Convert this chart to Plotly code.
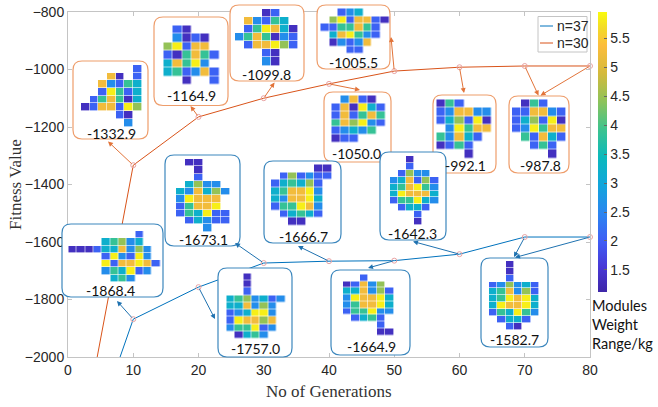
import plotly.graph_objects as go

# ---------------------------------------------------------------- data
generations = [0, 10, 20, 30, 40, 50, 60, 70, 80]
fitness_n37 = [-2520, -1868.4, -1757.0, -1673.1, -1666.7, -1664.9, -1642.3, -1582.7, -1582.7]
fitness_n30 = [-2540, -1332.9, -1164.9, -1099.8, -1050.0, -1005.5, -992.1, -987.8, -987.8]

x_ticks = [0, 10, 20, 30, 40, 50, 60, 70, 80]
y_ticks = [-2000, -1800, -1600, -1400, -1200, -1000, -800]
cbar_ticks = [1.5, 2, 2.5, 3, 3.5, 4, 4.5, 5, 5.5]
cbar_ticktext = ["1.5", "2", "2.5", "3", "3.5", "4", "4.5", "5", "5.5"]

# module weight (kg) of each colour class used in the layout grids
WEIGHT = {"D": 1.35, "B": 2.05, "L": 2.6, "C": 3.2, "G": 3.85, "K": 4.45, "O": 5.25, "Y": 5.85}

# best module layouts ('.' = empty slot), n = 30 modules
layout_n30_g10 = ["......B", "...OD.B", "..OLBGC", "..BYGBC", ".BGOGDC", "DBOOBYK", "....BD.", ".....L."]
layout_n30_g20 = [".BD...", ".LDBD.", "KYBOO.", "BDGOGB", "COGYL.", "CGBLOB", "..D..B"]
layout_n30_g30 = ["...DB..", ".OLBGC.", ".BGYOCD", "LGOGDLB", ".BOOYKB", "...BD..", "...LD.."]
layout_n30_g40 = [".LOBD.", "BODYCB", "BOBGOG", "GOKYLB", "BLCLG.", "DBB..."]
layout_n30_g50 = ["..BLC...", ".KYBOOBD", "BBGGOGB.", ".COYGLB.", ".DLBLO..", "...BB..."]
layout_n30_g60 = ["DGB...", "BLOOLL", "BCKBYD", ".LYGOO", "GLOCB.", "DBGB..", "...D.."]
layout_n30_g70 = [".DGB..", "BBOOLB", "BCKBYD", "BLYGOO", ".GBOCB", "..BGB.", "....D."]

# best module layouts, n = 37 modules
layout_n37_g10 = ["........B..", "....CGKLC..", "DDDBCCOLKL.", "....BYLBYL.",
                  "....YBOOYOB", "....LGCYBL.", ".....CGL..."]
layout_n37_g20 = ["..D....", "..D....", "..B....", "CGKLCBL", "CCOLKL.", "BLCYYL.",
                  "BYOOKO.", "LGGYBL.", ".DCGL.."]
layout_n37_g30 = [".DD...", "..D...", "..B...", ".CKLL.", "CLOCKL", "LYOOO.",
                  "BGOOY.", "BGCYBB", ".BCLBB", "...L.."]
layout_n37_g40 = [".....DD", ".BKBLBB", "BCGCKB.", "CGOOYL.", "CLOOYC.", "BGGYOL.",
                  ".BCGCB.", "..DD..."]
layout_n37_g50 = ["..B...", "DBOLK.", "CCOLKB", "LYOOYC", "LGOOYC", "BGGYLL",
                  ".BCGB.", "....B.", "....DD"]
layout_n37_g60 = ["..D...", "..B...", ".BKLL.", "LCOBKB", "CGOYGL", "CYOOOC",
                  "BGGYCL", ".BCCB.", "...B..", "...D.."]
layout_n37_g70 = ["..D...", "..D...", "..B...", "BLKLCB", "CGOLKB", "CGYOYC",
                  "CYOOYC", "BGCYGL", ".BCCB.", "..BD.."]

series = {
    "n37": dict(values=fitness_n37, name="n=37", color="#0072BD", box="#3C87BD", arrow="#1F72B0"),
    "n30": dict(values=fitness_n30, name="n=30", color="#D95319", box="#EE9D6B", arrow="#E2743A"),
}

layouts = {
    ("n30", 10): layout_n30_g10, ("n30", 20): layout_n30_g20, ("n30", 30): layout_n30_g30,
    ("n30", 40): layout_n30_g40, ("n30", 50): layout_n30_g50, ("n30", 60): layout_n30_g60,
    ("n30", 70): layout_n30_g70,
    ("n37", 10): layout_n37_g10, ("n37", 20): layout_n37_g20, ("n37", 30): layout_n37_g30,
    ("n37", 40): layout_n37_g40, ("n37", 50): layout_n37_g50, ("n37", 60): layout_n37_g60,
    ("n37", 70): layout_n37_g70,
}

# ---------------------------------------------------------------- geometry (pixels)
W, H = 658, 407
PLOT_L, PLOT_R, PLOT_T, PLOT_B = 68, 590, 12, 357
X_RANGE = [0, 80]
Y_RANGE = [-2000, -800]
PAD = 2
RADIUS = 9

# inset placement: rounded box, grid extent, label centre
inset_pos = {
    ("n30", 10): dict(box=(73, 61, 148, 139), grid=(81, 65, 141.5, 126.5), label=(111, 133)),
    ("n30", 20): dict(box=(154, 17, 228, 105.5), grid=(163.5, 25.5, 219, 84.5), label=(191, 96)),
    ("n30", 30): dict(box=(230, 5, 304, 81), grid=(235, 9, 298, 65.5), label=(266, 74)),
    ("n30", 40): dict(box=(324, 92, 391, 162), grid=(331.5, 95.5, 385.5, 142.5), label=(357, 153)),
    ("n30", 50): dict(box=(317, 5, 390, 69), grid=(320.5, 8.5, 389, 53.5), label=(353, 62)),
    ("n30", 60): dict(box=(433, 95, 496, 173), grid=(436.5, 99.5, 491.5, 158), label=(465, 166)),
    ("n30", 70): dict(box=(509, 96, 569, 173), grid=(512, 99.5, 565.5, 158), label=(540, 166)),
    ("n37", 10): dict(box=(62, 224, 163, 297), grid=(68.5, 231, 160, 282), label=(110, 290)),
    ("n37", 20): dict(box=(218, 268, 292, 357), grid=(226.5, 273.5, 285, 338.5), label=(255, 348)),
    ("n37", 30): dict(box=(165, 155, 240, 246), grid=(176, 159, 229.5, 231.5), label=(203, 239)),
    ("n37", 40): dict(box=(264, 161, 341, 243), grid=(271, 164.5, 331.5, 225.5), label=(303, 236)),
    ("n37", 50): dict(box=(331, 270, 410, 355), grid=(343, 274.5, 393.5, 335), label=(371, 346)),
    ("n37", 60): dict(box=(380, 152, 446, 240), grid=(390, 156, 438.5, 225), label=(412, 233)),
    ("n37", 70): dict(box=(481, 258, 548, 347), grid=(489, 261, 539, 329.5), label=(514, 339)),
}

# where each generation's arrow lands on its inset box
arrow_heads = {
    ("n30", 10): (108, 141.5), ("n30", 20): (190.5, 106), ("n30", 30): (274.5, 82.5),
    ("n30", 40): (360, 90), ("n30", 50): (391, 37), ("n30", 60): (464, 93),
    ("n30", 70): (538.5, 95.5), ("n30", 80): (540.5, 95.5),
    ("n37", 10): (117, 301), ("n37", 20): (215, 319), ("n37", 30): (235, 243),
    ("n37", 40): (298, 246), ("n37", 50): (368, 268), ("n37", 60): (413, 241.5),
    ("n37", 70): (514, 257), ("n37", 80): (515, 257.5),
}

# legend box and entries
LEGEND_BOX = (538, 16.5, 587, 52)
LEGEND_ROWS = {"n37": 26, "n30": 43}
LEGEND_LINE_X = (540, 553)
LEGEND_TEXT_X = 555

PARULA = [
    [0.00, "#3e26a8"], [0.09, "#4838d6"], [0.18, "#3f5df5"], [0.28, "#2b85f0"],
    [0.38, "#12a5dc"], [0.48, "#0bb9bd"], [0.58, "#3cc38f"], [0.68, "#8dc35a"],
    [0.78, "#d4ba3c"], [0.88, "#fcbd3c"], [0.94, "#f3d92a"], [1.00, "#f9fb0e"],
]

TICK_FONT = dict(family="Liberation Sans, Arial", size=14, color="#262626")
LABEL_FONT = dict(family="Lato, Carlito, sans-serif", size=14, color="#111111")
TITLE_FONT = dict(family="Liberation Serif, Times New Roman", size=17, color="#333333")


def px_x(px):
    return X_RANGE[0] + (px - PLOT_L) / (PLOT_R - PLOT_L) * (X_RANGE[1] - X_RANGE[0])


def px_y(py):
    return Y_RANGE[1] - (py - PLOT_T) / (PLOT_B - PLOT_T) * (Y_RANGE[1] - Y_RANGE[0])


fig = go.Figure()

# ---------------------------------------------------------------- main curves
for key in ["n37", "n30"]:
    s = series[key]
    fig.add_trace(go.Scatter(
        x=generations, y=s["values"], mode="lines", name=s["name"], showlegend=False,
        line=dict(color=s["color"], width=1), hoverinfo="skip",
    ))
for key in ["n37", "n30"]:
    s = series[key]
    fig.add_trace(go.Scatter(
        x=generations, y=s["values"], mode="markers", showlegend=False,
        marker=dict(symbol="circle-open", size=5, color="#E9A3A3", line=dict(width=1)),
        cliponaxis=False, hoverinfo="skip",
    ))

# ---------------------------------------------------------------- insets
shapes, annotations = [], []
axis_layout = {}
k = 1
for (key, gen), rows in layouts.items():
    k += 1
    pos = inset_pos[(key, gen)]
    bx0, by0, bx1, by1 = pos["box"]
    gx0, gy0, gx1, gy1 = pos["grid"]
    nrows, ncols = len(rows), len(rows[0])
    cw = (gx1 - gx0) / ncols
    ch = (gy1 - gy0) / nrows

    def fx(px):
        return (px - gx0) / cw - 0.5

    def fy(py):
        return (py - gy0) / ch - 0.5

    dx0, dx1, dy0, dy1 = bx0 - PAD, bx1 + PAD, by0 - PAD, by1 + PAD
    axis_layout[f"xaxis{k}"] = dict(domain=[dx0 / W, dx1 / W], range=[fx(dx0), fx(dx1)],
                                    anchor=f"y{k}", visible=False, fixedrange=True)
    axis_layout[f"yaxis{k}"] = dict(domain=[1 - dy1 / H, 1 - dy0 / H], range=[fy(dy1), fy(dy0)],
                                    anchor=f"x{k}", visible=False, fixedrange=True)

    z = [[WEIGHT[c] if c != "." else None for c in row] for row in rows]
    fig.add_trace(go.Heatmap(
        z=z, xaxis=f"x{k}", yaxis=f"y{k}", coloraxis="coloraxis",
        xgap=0.6, ygap=0.6, hoverinfo="skip",
    ))

    # rounded frame, drawn inside the inset subplot so it masks the curves
    r = RADIUS
    pts = [
        ("M", bx0 + r, by0), ("L", bx1 - r, by0), ("Q", bx1, by0, bx1, by0 + r),
        ("L", bx1, by1 - r), ("Q", bx1, by1, bx1 - r, by1), ("L", bx0 + r, by1),
        ("Q", bx0, by1, bx0, by1 - r), ("L", bx0, by0 + r), ("Q", bx0, by0, bx0 + r, by0),
    ]
    path = ""
    for p in pts:
        if p[0] == "Q":
            path += f"Q{fx(p[1]):.4f},{fy(p[2]):.4f} {fx(p[3]):.4f},{fy(p[4]):.4f} "
        else:
            path += f"{p[0]}{fx(p[1]):.4f},{fy(p[2]):.4f} "
    path += "Z"
    shapes.append(dict(type="path", xref=f"x{k}", yref=f"y{k}", layer="below", path=path,
                       fillcolor="white", line=dict(color=series[key]["box"], width=1.2)))

    value = series[key]["values"][generations.index(gen)]
    lx, ly = pos["label"]
    annotations.append(dict(text=f"{value:.1f}", x=lx / W, y=1 - ly / H, xref="paper", yref="paper",
                            xanchor="center", yanchor="middle", showarrow=False, font=LABEL_FONT))

# arrows from each generation's point to its layout
for (key, gen), (hx, hy) in arrow_heads.items():
    s = series[key]
    annotations.append(dict(
        x=px_x(hx), y=px_y(hy), xref="x", yref="y",
        ax=gen, ay=s["values"][generations.index(gen)], axref="x", ayref="y",
        text="", showarrow=True, arrowhead=2, arrowsize=1, arrowwidth=1,
        arrowcolor=s["arrow"], standoff=0, startstandoff=0,
    ))

# legend
lx0, ly0, lx1, ly1 = LEGEND_BOX
shapes.append(dict(type="rect", xref="paper", yref="paper", layer="above",
                   x0=lx0 / W, x1=lx1 / W, y0=1 - ly1 / H, y1=1 - ly0 / H,
                   fillcolor="white", line=dict(color="#C4C4C4", width=1)))
for key in ["n37", "n30"]:
    row_y = 1 - LEGEND_ROWS[key] / H
    shapes.append(dict(type="line", xref="paper", yref="paper", layer="above",
                       x0=LEGEND_LINE_X[0] / W, x1=LEGEND_LINE_X[1] / W, y0=row_y, y1=row_y,
                       line=dict(color=series[key]["color"], width=1)))
    annotations.append(dict(text=series[key]["name"], x=LEGEND_TEXT_X / W, y=row_y,
                            xref="paper", yref="paper", xanchor="left", yanchor="middle",
                            showarrow=False, font=TICK_FONT))

# axis titles and colour bar caption
annotations.append(dict(text="No of Generations", x=329 / W, y=1 - 391 / H, xref="paper", yref="paper",
                        xanchor="center", yanchor="middle", showarrow=False, font=TITLE_FONT))
annotations.append(dict(text="Fitness Value", x=15 / W, y=1 - 185 / H, xref="paper", yref="paper",
                        xanchor="center", yanchor="middle", showarrow=False, textangle=-90,
                        font=TITLE_FONT))
annotations.append(dict(text="Modules<br>Weight<br>Range/kg", x=590 / W, y=1 - 295 / H,
                        xref="paper", yref="paper", xanchor="left", yanchor="top", align="left",
                        showarrow=False, font=dict(family="Lato, Carlito, sans-serif", size=14.5,
                                                   color="#111111")))

axis_style = dict(showline=True, linecolor="#C4C4C4", linewidth=1, mirror="ticks",
                  ticks="inside", ticklen=4, tickcolor="#C4C4C4", showgrid=False,
                  zeroline=False, tickfont=TICK_FONT, fixedrange=True, automargin=False)

fig.update_layout(
    width=W, height=H,
    margin=dict(l=0, r=0, t=0, b=0, autoexpand=False),
    paper_bgcolor="white", plot_bgcolor="rgba(0,0,0,0)",
    xaxis=dict(domain=[PLOT_L / W, PLOT_R / W], range=X_RANGE, tickvals=x_ticks, **axis_style),
    yaxis=dict(domain=[1 - PLOT_B / H, 1 - PLOT_T / H], range=Y_RANGE, tickvals=y_ticks,
               **axis_style),
    coloraxis=dict(
        colorscale=PARULA, cmin=1.12, cmax=5.95,
        colorbar=dict(
            x=598 / W, xanchor="left", y=1 - PLOT_T / H, yanchor="top",
            len=280 / H, lenmode="fraction", thickness=9, thicknessmode="pixels",
            xpad=0, ypad=0, outlinewidth=0, tickvals=cbar_ticks, ticktext=cbar_ticktext,
            ticks="inside", ticklen=3, tickcolor="#666666", tickfont=TICK_FONT,
        ),
    ),
    showlegend=False,
    shapes=shapes,
    annotations=annotations,
    **axis_layout,
)

fig.write_html("out.html")
